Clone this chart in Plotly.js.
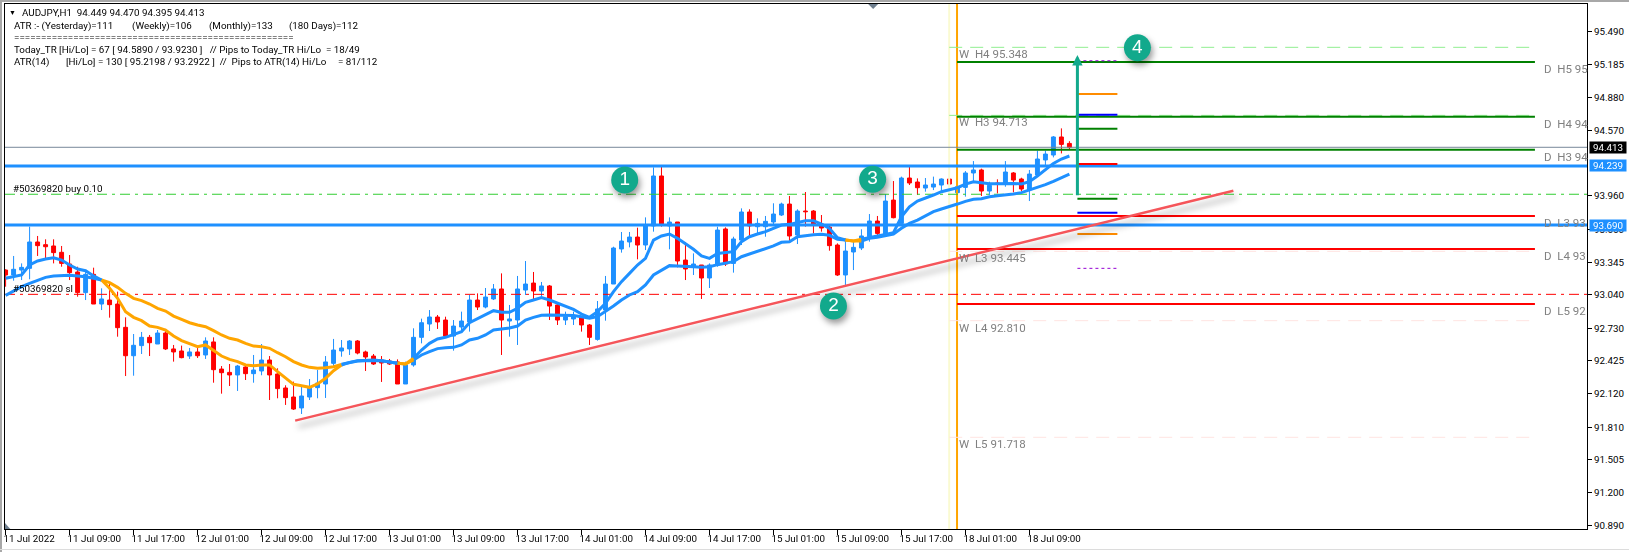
<!DOCTYPE html>
<html><head><meta charset="utf-8">
<script src="https://cdn.plot.ly/plotly-3.0.1.min.js"></script>
<style>
html,body{margin:0;padding:0;background:#fff;width:1629px;height:552px;overflow:hidden}
#chart{position:absolute;left:0;top:0;width:1629px;height:552px}
.edge{position:absolute;background:#a8a8a8;z-index:5}
</style></head><body>
<div id="chart"></div>
<div class="edge" style="left:0;top:0;width:1629px;height:2px"></div>
<div class="edge" style="left:0;top:0;width:2px;height:552px"></div>
<div class="edge" style="left:0;top:549px;width:1629px;height:1px;background:#dcdcdc"></div>
<script>
const openVals=[93.271,93.225,93.271,93.287,93.532,93.507,93.495,93.436,93.327,93.253,
93.061,93.231,92.955,92.992,92.955,92.738,92.474,92.568,92.645,92.583,
92.685,92.537,92.518,92.471,92.509,92.481,92.602,92.350,92.319,92.295,
92.369,92.307,92.332,92.434,92.304,92.174,92.090,91.988,92.090,92.177,
92.211,92.403,92.518,92.537,92.611,92.509,92.471,92.434,92.425,92.416,
92.211,92.388,92.645,92.769,92.834,92.806,92.657,92.741,92.788,92.992,
92.927,93.002,93.095,92.797,92.806,93.085,93.150,93.076,93.123,92.946,
92.806,92.816,92.834,92.760,92.626,92.899,93.141,93.467,93.532,93.578,
93.504,93.681,94.146,93.681,93.718,93.364,93.296,93.318,93.197,93.318,
93.653,93.333,93.550,93.811,93.674,93.674,93.718,93.783,93.885,93.597,
93.820,93.820,93.699,93.671,93.504,93.225,93.439,93.476,93.581,93.727,
93.606,93.922,93.705,94.127,94.090,94.034,94.043,94.062,94.118,93.991,
94.040,94.174,94.202,94.006,94.081,94.071,94.174,94.118,94.015,94.155,
94.295,94.341,94.509,94.449];
const highVals=[93.278,93.402,93.333,93.675,93.588,93.557,93.557,93.495,93.411,93.302,
93.256,93.293,93.101,93.141,93.070,92.831,92.676,92.695,92.667,92.713,
92.723,92.574,92.568,92.546,92.552,92.645,92.645,92.378,92.397,92.388,
92.388,92.481,92.583,92.471,92.357,92.199,92.233,92.192,92.257,92.341,
92.471,92.630,92.620,92.620,92.620,92.521,92.490,92.471,92.444,92.440,
92.419,92.729,92.819,92.899,92.853,92.837,92.806,92.884,93.039,93.054,
93.104,93.141,93.240,92.946,93.216,93.355,93.253,93.160,93.132,92.955,
92.884,92.884,92.843,92.769,92.983,93.216,93.488,93.625,93.625,93.665,
93.761,94.226,94.239,93.761,93.718,93.532,93.426,93.318,93.333,93.674,
93.668,93.581,93.845,93.836,93.752,93.774,93.892,93.898,93.960,93.836,
93.997,93.829,93.783,93.681,93.519,93.566,93.535,93.650,93.792,93.774,
93.978,94.099,94.140,94.248,94.124,94.127,94.140,94.124,94.127,94.062,
94.192,94.285,94.214,94.093,94.115,94.285,94.183,94.130,94.202,94.381,
94.381,94.518,94.589,94.470];
const lowVals=[93.116,93.172,93.178,93.185,93.402,93.380,93.333,93.302,93.178,93.023,
92.992,92.955,92.899,92.828,92.651,92.285,92.288,92.490,92.471,92.583,
92.527,92.419,92.450,92.444,92.453,92.444,92.223,92.121,92.192,92.146,
92.248,92.223,92.292,92.062,92.078,92.016,91.969,91.932,92.062,92.078,
92.081,92.372,92.465,92.481,92.487,92.332,92.388,92.230,92.388,92.211,
92.211,92.372,92.589,92.704,92.723,92.651,92.521,92.713,92.698,92.899,
92.915,92.992,92.481,92.651,92.574,93.039,92.992,93.023,92.806,92.760,
92.760,92.760,92.698,92.574,92.614,92.800,93.141,93.433,93.482,93.371,
93.457,93.628,93.675,93.464,93.296,93.178,93.225,93.002,93.104,93.302,
93.309,93.247,93.504,93.588,93.612,93.581,93.690,93.774,93.526,93.513,
93.675,93.612,93.628,93.451,93.216,93.132,93.271,93.457,93.535,93.597,
93.597,93.752,93.705,94.062,93.969,94.000,94.015,94.006,94.022,93.978,
93.954,94.087,93.960,93.969,93.984,94.046,93.994,94.006,93.913,94.146,
94.239,94.319,94.356,94.395];
const closeVals=[93.225,93.278,93.296,93.532,93.498,93.488,93.433,93.333,93.247,93.061,
93.231,92.955,93.002,92.949,92.735,92.474,92.571,92.645,92.595,92.685,
92.537,92.509,92.456,92.509,92.474,92.611,92.344,92.316,92.295,92.378,
92.307,92.341,92.434,92.295,92.168,92.084,91.978,92.099,92.183,92.220,
92.416,92.527,92.546,92.611,92.499,92.462,92.397,92.406,92.397,92.211,
92.388,92.645,92.781,92.834,92.788,92.657,92.750,92.797,92.992,92.927,
93.020,93.095,92.806,92.816,93.095,93.141,93.076,93.123,92.936,92.806,
92.837,92.843,92.760,92.645,92.909,93.141,93.476,93.541,93.578,93.504,
93.681,94.146,93.690,93.718,93.355,93.281,93.327,93.197,93.318,93.643,
93.327,93.560,93.811,93.681,93.705,93.724,93.792,93.885,93.588,93.820,
93.814,93.690,93.662,93.498,93.225,93.448,93.482,93.588,93.727,93.612,
93.913,93.758,94.127,94.081,94.037,94.062,94.071,94.118,94.071,94.046,
94.174,94.202,94.006,94.059,94.071,94.183,94.108,94.025,94.164,94.304,
94.350,94.509,94.440,94.413];
const fastMA=[93.194,93.209,93.225,93.318,93.355,93.374,93.386,93.364,93.318,93.281,
93.265,93.216,93.178,93.101,93.008,92.884,92.831,92.800,92.750,92.738,
92.713,92.657,92.614,92.589,92.558,92.574,92.521,92.471,92.440,92.419,
92.388,92.381,92.388,92.388,92.326,92.264,92.208,92.195,92.180,92.211,
92.264,92.335,92.388,92.412,92.428,92.434,92.434,92.428,92.419,92.403,
92.397,92.450,92.527,92.589,92.630,92.645,92.673,92.698,92.781,92.816,
92.853,92.893,92.878,92.878,92.915,92.971,92.992,93.014,92.992,92.961,
92.936,92.905,92.862,92.831,92.884,92.961,93.070,93.163,93.240,93.318,
93.380,93.550,93.588,93.606,93.566,93.519,93.464,93.402,93.380,93.426,
93.432,93.442,93.535,93.581,93.606,93.628,93.659,93.690,93.696,93.712,
93.730,93.730,93.699,93.659,93.572,93.550,93.541,93.557,93.575,93.588,
93.603,93.619,93.767,93.860,93.913,93.938,93.969,94.000,94.015,94.037,
94.071,94.093,94.084,94.074,94.074,94.077,94.077,94.071,94.093,94.146,
94.208,94.263,94.304,94.332];
const slowMA=[93.036,93.076,93.116,93.147,93.178,93.203,93.216,93.222,93.222,93.216,
93.209,93.194,93.178,93.154,93.110,93.054,93.008,92.986,92.955,92.915,
92.890,92.843,92.812,92.781,92.760,92.744,92.707,92.667,92.636,92.620,
92.589,92.564,92.558,92.543,92.502,92.465,92.419,92.388,92.366,92.357,
92.363,92.372,92.394,92.412,92.425,92.428,92.431,92.428,92.416,92.403,
92.397,92.434,92.481,92.512,92.540,92.549,92.552,92.574,92.620,92.636,
92.667,92.713,92.722,92.732,92.750,92.806,92.831,92.850,92.853,92.853,
92.853,92.847,92.837,92.822,92.837,92.884,92.936,92.992,93.039,93.070,
93.132,93.225,93.265,93.312,93.309,93.302,93.302,93.296,93.302,93.321,
93.333,93.349,93.395,93.420,93.442,93.464,93.495,93.529,93.535,93.581,
93.591,93.600,93.603,93.594,93.557,93.550,93.541,93.541,93.566,93.575,
93.588,93.606,93.659,93.705,93.736,93.774,93.814,93.839,93.860,93.885,
93.910,93.929,93.935,93.953,93.963,93.969,93.978,93.991,94.015,94.037,
94.065,94.096,94.130,94.164];
const fallingSpans=[[12,42],[49,51],[105,107]];
const xTickLabels=["11 Jul 2022","11 Jul 09:00","11 Jul 17:00","12 Jul 01:00","12 Jul 09:00","12 Jul 17:00","13 Jul 01:00","13 Jul 09:00","13 Jul 17:00","14 Jul 01:00","14 Jul 09:00","14 Jul 17:00","15 Jul 01:00","15 Jul 09:00","15 Jul 17:00","18 Jul 01:00","18 Jul 09:00"];
const yTickValues=[95.49,95.185,94.88,94.57,93.96,93.65,93.345,93.04,92.73,92.425,92.12,91.81,91.505,91.2,90.89];
const dailyLevels=[["D  H5 95",95.206],["D  H4 94",94.697],["D  H3 94",94.391],["D  L3 93",93.774],["D  L4 93",93.467],["D  L5 92",92.955]];
const weeklyLevels=[["W  H4 95.348",95.343],["W  H3 94.713",94.71],["W  L3 93.445",93.445],["W  L4 92.810",92.80],["W  L5 91.718",91.715]];
const ladderLevels=[[95.218,"#9400D3",1,"3px,3px"],[94.909,"#FF8C00",2,"solid"],[94.716,"#0000FF",2,"solid"],[94.586,"#008000",2,"solid"],[94.257,"#FF0000",2,"solid"],[93.935,"#008000",2,"solid"],[93.804,"#0000FF",2,"solid"],[93.606,"#FF8C00",2,"solid"],[93.287,"#9400D3",1,"3px,3px"]];
const trendX=[36.2,153.5], trendP=[91.87,94.009];
const badges=[["1",77.4,94.109],["2",103.5,92.937],["3",108.4,94.115],["4",141.5,95.339]];
const headerTexts=[
 ["AUDJPY,H1  94.449 94.470 94.395 94.413",20.5,12.7],
 ["ATR :- (Yesterday)=111",12.5,25.7],["(Weekly)=106",131,25.7],["(Monthly)=133",207.7,25.7],["(180 Days)=112",287.7,25.7],
 ["====================================================",12.5,37.7],
 ["Today_TR [Hi/Lo] = 67 [ 94.5890 / 93.9230 ]   // Pips to Today_TR Hi/Lo  = 18/49",12.5,49.7],
 ["ATR(14)",12.5,61.7],["[Hi/Lo] = 130 [ 95.2198 / 93.2922 ]  //  Pips to ATR(14) Hi/Lo",65,61.7],["= 81/112",336.7,61.7],
 ["#50369820 buy 0.10",12,188],["#50369820 sl",12,288]];
const BLUE="#1E90FF",RED="#FF0000",ORANGE="#FFA500",TEAL="#12A98C",GREY="#808080";
const xMin=-0.075,xMax=197.71,yMin=90.862,yMax=95.746;
const ML=4.7,MR=42,MT=4,MB=23,W=1629,H=552,PW=W-ML-MR,PH=H-MT-MB;
const px=v=>(v-ML)/PW, py=v=>(H-MB-v)/PH;
const UI="Roboto, 'Noto Sans', sans-serif";
const traces=[];
function hline(x0,x1,p,color,width,dash){traces.push({type:"scatter",mode:"lines",x:[x0,x1],y:[p,p],line:{color,width,dash:dash||"solid"},hoverinfo:"skip",showlegend:false});}
function vline(x,color,width){traces.push({type:"scatter",mode:"lines",x:[x,x],y:[yMin,yMax],line:{color,width},hoverinfo:"skip",showlegend:false});}
vline(117.97,"#FAFAD2",2);vline(118.95,ORANGE,2);
weeklyLevels.forEach((l,k)=>hline(117.97,190.9,l[1],k<2?"#90EE90":"#FFE4E1",1,"13px,8px"));
hline(xMin,xMax,94.413,"#778899",1);
hline(xMin,xMax,94.239,BLUE,3);hline(xMin,xMax,93.69,BLUE,3);
hline(xMin,xMax,93.976,"#32CD32",1,"10px,5px,3px,5px");
hline(xMin,xMax,93.045,RED,1,"10px,5px,3px,5px");
dailyLevels.forEach((l,k)=>hline(118.95,191.2,l[1],k<3?"#008000":RED,2));
ladderLevels.forEach(l=>hline(134,139,l[0],l[1],l[2],l[3]));
const idx=closeVals.map((_,i)=>i);
function maTraces(arr){
 let risingStart=0;
 const segs=[];
 fallingSpans.forEach(s=>{segs.push([risingStart,s[0],BLUE]);segs.push([s[0],s[1],ORANGE]);risingStart=s[1];});
 segs.push([risingStart,arr.length-1,BLUE]);
 segs.forEach(s=>traces.push({type:"scatter",mode:"lines",x:idx.slice(s[0],s[1]+1),y:arr.slice(s[0],s[1]+1),line:{color:s[2],width:3},hoverinfo:"skip",showlegend:false}));
}
maTraces(slowMA);maTraces(fastMA);
traces.push({type:"candlestick",x:idx,open:openVals,high:highVals,low:lowVals,close:closeVals,
 increasing:{line:{color:BLUE,width:1},fillcolor:BLUE},decreasing:{line:{color:RED,width:1},fillcolor:RED},
 whiskerwidth:0,hoverinfo:"skip",showlegend:false});
traces.push({type:"scatter",mode:"lines",x:trendX,y:trendP,line:{color:"#F5555A",width:2.5},hoverinfo:"skip",showlegend:false,name:"trend"});
traces.push({type:"scatter",mode:"markers+text",x:badges.map(b=>b[1]),y:badges.map(b=>b[2]),text:badges.map(b=>b[0]),textposition:"middle center",textfont:{family:"'Liberation Sans',sans-serif",size:19,color:"#fff"},marker:{size:27,color:TEAL},hoverinfo:"skip",showlegend:false});
const annotations=[];
headerTexts.forEach(t=>annotations.push({xref:"paper",yref:"paper",x:px(t[1]),y:py(t[2]),text:t[0],showarrow:false,xanchor:"left",yanchor:"middle",font:{family:UI,size:9.8,color:"#000"},borderpad:0}));
annotations.push({xref:"paper",yref:"paper",x:px(8),y:py(12.7),text:"▼",showarrow:false,xanchor:"left",yanchor:"middle",font:{size:7,color:"#000"},borderpad:0});
weeklyLevels.forEach(l=>annotations.push({x:119.1,y:l[1],yshift:1,text:l[0],showarrow:false,xanchor:"left",yanchor:"top",font:{family:UI,size:11.5,color:GREY},borderpad:0}));
dailyLevels.forEach(l=>annotations.push({x:192.25,y:l[1],yshift:1,text:l[0],showarrow:false,xanchor:"left",yanchor:"top",font:{family:UI,size:11.5,color:GREY},borderpad:0}));
[[94.413,"#000"],[94.239,BLUE],[93.69,BLUE]].forEach(t=>annotations.push({xref:"paper",yref:"y",x:1.0012,y:t[0],text:t[0].toFixed(3),showarrow:false,xanchor:"left",yanchor:"middle",width:36,height:11,align:"center",bgcolor:t[1],font:{family:UI,size:9.8,color:"#fff"},borderpad:0}));
annotations.push({x:134,y:95.271,ax:134,ay:93.953,xref:"x",yref:"y",axref:"x",ayref:"y",text:"",showarrow:true,arrowhead:2,arrowsize:0.7,arrowwidth:3,arrowcolor:TEAL});
const shapes=[
 {type:"path",xref:"paper",yref:"paper",path:`M ${px(4.7)} ${py(523)} L ${px(10)} ${py(529)} L ${px(4.7)} ${py(529)} Z`,fillcolor:"#708090",line:{width:0}},
 {type:"path",xref:"paper",yref:"paper",path:`M ${px(868)} ${py(4)} L ${px(878)} ${py(4)} L ${px(873)} ${py(9)} Z`,fillcolor:"#708090",line:{width:0}}
];
const layout={width:W,height:H,margin:{l:ML,r:MR,t:MT,b:MB,pad:0,autoexpand:false},paper_bgcolor:"#fff",plot_bgcolor:"#fff",showlegend:false,
 xaxis:{range:[xMin,xMax],rangeslider:{visible:false},tickmode:"array",tickvals:xTickLabels.map((_,i)=>i*8),ticktext:xTickLabels,showgrid:false,zeroline:false,tickangle:0,
  showline:true,mirror:true,linecolor:"#000",linewidth:1,ticks:"outside",ticklen:5,tickwidth:1,tickcolor:"#000",ticklabelposition:"outside right",
  tickfont:{family:UI,size:9.8,color:"#000"}},
 yaxis:{range:[yMin,yMax],side:"right",tickmode:"array",tickvals:yTickValues,ticktext:yTickValues.map(v=>v.toFixed(3)),showgrid:false,zeroline:false,
  showline:true,mirror:true,linecolor:"#000",linewidth:1,ticks:"outside",ticklen:4,tickwidth:1,tickcolor:"#000",tickfont:{family:UI,size:9.8,color:"#000"}},
 annotations,shapes};
Plotly.newPlot("chart",traces,layout,{displayModeBar:false,staticPlot:true}).then(()=>{
 const tr=document.querySelectorAll(".scatterlayer .trace");
 const n=tr.length;
 if(tr[n-1])tr[n-1].style.filter="drop-shadow(2px 4px 3px rgba(0,0,0,.4))";
 if(tr[n-2])tr[n-2].style.filter="drop-shadow(3px 6px 3px rgba(0,0,0,.35))";
 document.querySelectorAll(".xtick text").forEach(t=>{t.setAttribute("x",parseFloat(t.getAttribute("x"))-3);});
});
</script>
</body></html>
